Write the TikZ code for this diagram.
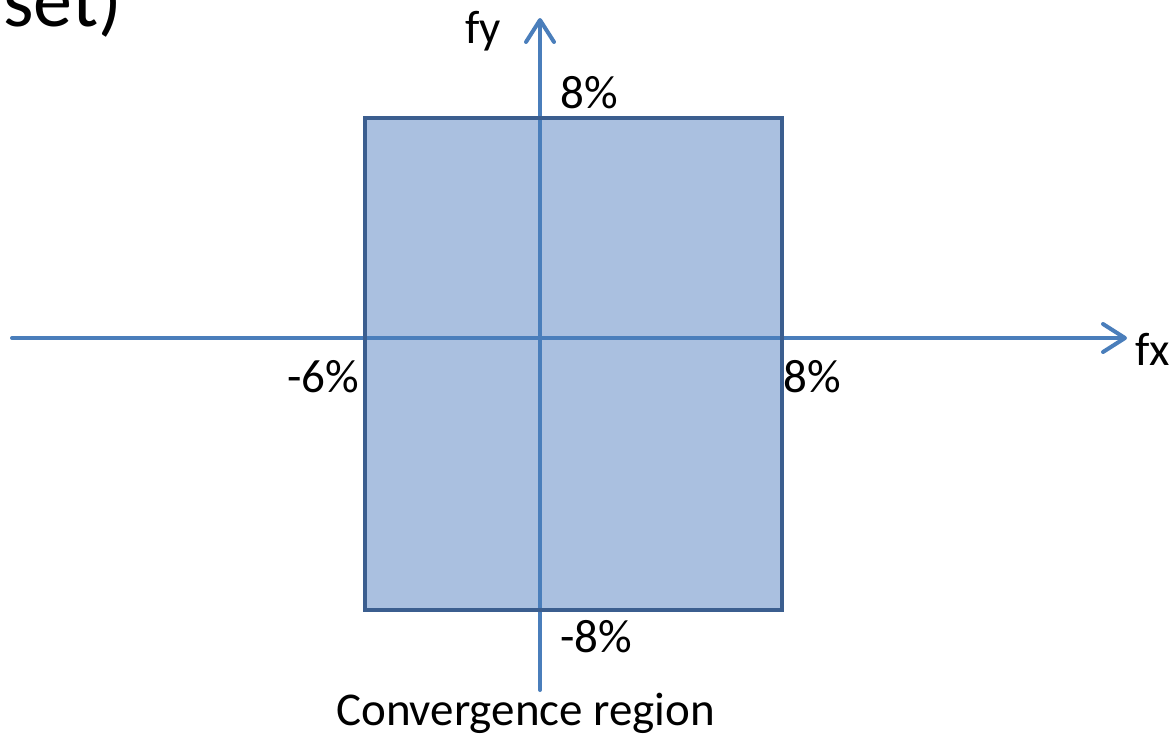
\documentclass[tikz,border=0pt]{standalone}
\usepackage{fontspec}
\setmainfont{Carlito}
\usetikzlibrary{arrows.meta}
\definecolor{regfill}{HTML}{AAC0E0}
\definecolor{regborder}{HTML}{3B5E8F}
\definecolor{axiscol}{HTML}{4A7EBB}
\tikzset{
  lbl/.style={inner sep=0pt, anchor=base west, font=\fontsize{47}{50}\selectfont},
  axis/.style={draw=axiscol, line width=4pt, line cap=round,
    -{Straight Barb[length=22pt,width=28pt,line cap=round,line join=round]}},
  region/.style={draw=regborder, line width=4pt}
}
\begin{document}
\begin{tikzpicture}[x=1pt,y=-1pt]
\useasboundingbox (0,0) rectangle (1174,736);
\clip (0,0) rectangle (1174,736);
% fill of region
\fill[regfill] (363,116) rectangle (780,608);
% axes
\coordinate (xs) at (12,338);
\coordinate (xe) at (1127,338);
\coordinate (ys) at (540,690);
\coordinate (ye) at (540,18);
\draw[axis] (xs) -- (xe);
\draw[axis] (ys) -- (ye);
% region border
\node[region, minimum width=417pt, minimum height=492pt, inner sep=0pt, anchor=north west] (reg) at (363,116) {};
% labels
\node[lbl, font=\fontsize{78}{80}\selectfont] (set) at (3,27) {set)};
\node[lbl] (fy) at (465,43) {fy};
\node[lbl] (ytop) at (560,108) {8\%};
\node[lbl] (fx) at (1135,365) {fx};
\node[lbl] (xneg) at (287,392) {-6\%};
\node[lbl] (xpos) at (783,392) {8\%};
\node[lbl] (yneg) at (560,652) {-8\%};
\node[lbl] (cap) at (336,725) {Convergence region};
\end{tikzpicture}
\end{document}
